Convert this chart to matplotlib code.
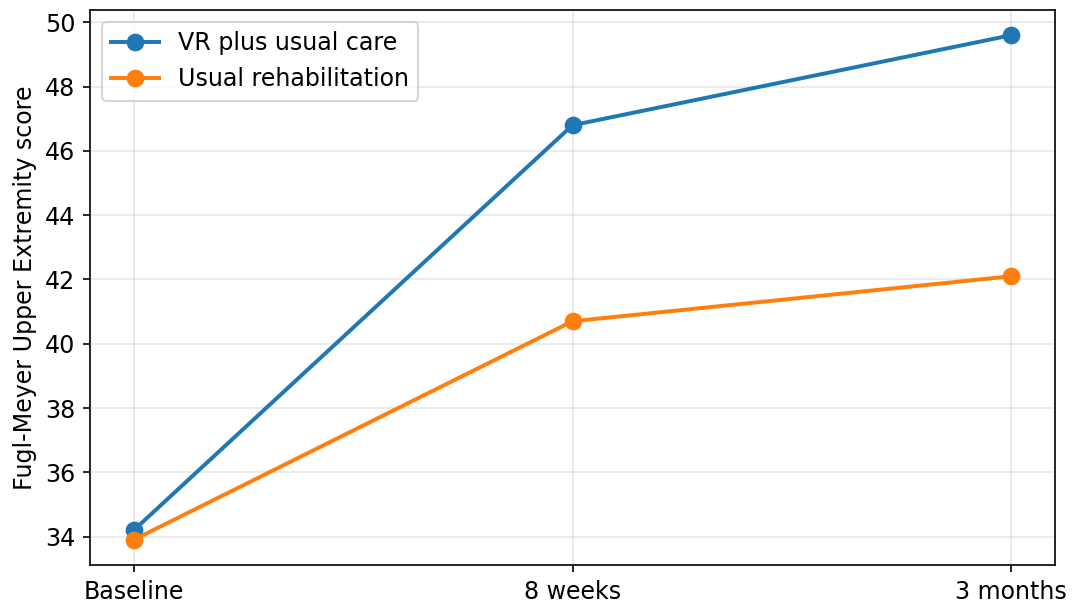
import matplotlib
matplotlib.use("Agg")
import matplotlib.pyplot as plt

timepoints = ["Baseline", "8 weeks", "3 months"]
vr_scores = [34.2, 46.8, 49.6]
usual_scores = [33.9, 40.7, 42.1]

plt.rcParams["font.size"] = 11.4

fig = plt.figure(figsize=(1072 / 150, 608 / 150), dpi=150)
ax = fig.add_axes([90 / 1072, 1 - 565 / 608, 965 / 1072, 555 / 608])

x = list(range(len(timepoints)))
ax.plot(x, vr_scores, marker="o", markersize=7.5, linewidth=1.9, color="#1f77b4", label="VR plus usual care")
ax.plot(x, usual_scores, marker="o", markersize=7.5, linewidth=1.9, color="#ff7f0e", label="Usual rehabilitation")

ax.set_xticks(x)
ax.set_xticklabels(timepoints)
ax.set_ylabel("Fugl-Meyer Upper Extremity score")
ax.grid(True, alpha=0.3)
ax.legend(loc="upper left")

fig.savefig("out.png", dpi=150)
